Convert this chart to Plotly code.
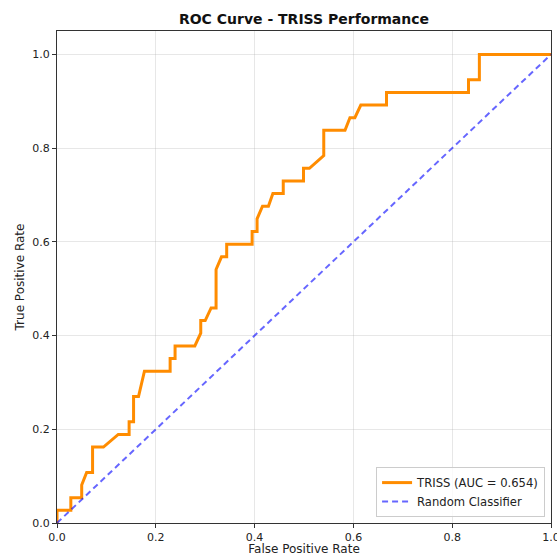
import plotly.graph_objects as go

fpr = [0, 0, 0.028, 0.028, 0.05, 0.05, 0.06, 0.072, 0.072, 0.094, 0.124, 0.146, 0.146,
       0.155, 0.155, 0.165, 0.177, 0.229, 0.229, 0.239, 0.239, 0.279, 0.291, 0.291,
       0.30, 0.312, 0.322, 0.322, 0.333, 0.3435, 0.3435, 0.395, 0.395, 0.405, 0.405,
       0.416, 0.428, 0.437, 0.458, 0.458, 0.499, 0.499, 0.511, 0.540, 0.540, 0.583,
       0.593, 0.603, 0.615, 0.667, 0.667, 0.833, 0.833, 0.855, 0.855, 1.0]
tpr = [0, 0.027, 0.027, 0.054, 0.054, 0.081, 0.108, 0.108, 0.162, 0.162, 0.189, 0.189, 0.216,
       0.216, 0.270, 0.270, 0.324, 0.324, 0.351, 0.351, 0.378, 0.378, 0.405, 0.432,
       0.432, 0.459, 0.459, 0.541, 0.568, 0.568, 0.595, 0.595, 0.622, 0.622, 0.649,
       0.676, 0.676, 0.703, 0.703, 0.730, 0.730, 0.757, 0.757, 0.784, 0.838, 0.838,
       0.865, 0.865, 0.892, 0.892, 0.919, 0.919, 0.946, 0.946, 1.0, 1.0]
diag_x = [0, 1]
diag_y = [0, 1]
auc_label = "TRISS (AUC = 0.654)"
ticks = [0.0, 0.2, 0.4, 0.6, 0.8, 1.0]

font = "DejaVu Sans"
fig = go.Figure()
fig.add_trace(go.Scatter(x=fpr, y=tpr, mode="lines", name=auc_label,
                         line=dict(color="#ff8c00", width=3)))
fig.add_trace(go.Scatter(x=diag_x, y=diag_y, mode="lines", name="Random Classifier",
                         line=dict(color="rgba(0,0,255,0.6)", width=2, dash="6px,4px")))

axis_common = dict(showgrid=True, gridcolor="rgba(176,176,176,0.3)", gridwidth=1,
                   showline=True, linecolor="#333333", linewidth=1, mirror=True,
                   ticks="outside", ticklen=4, tickcolor="#333333",
                   tickfont=dict(family=font, size=11, color="#222"),
                   ticklabeloverflow="allow",
                   tickformat=".1f", tickvals=ticks, zeroline=False)

fig.update_layout(
    width=557, height=556,
    margin=dict(l=57, r=6, t=31, b=33, autoexpand=False),
    paper_bgcolor="white", plot_bgcolor="white",
    title=dict(text="<b>ROC Curve - TRISS Performance</b>", x=0.5, xref="paper",
               y=1 - 19 / 556, yref="container", yanchor="middle",
               font=dict(family=font, size=14, color="#111")),
    xaxis=dict(range=[0, 1], title=dict(text="False Positive Rate", standoff=3,
               font=dict(family=font, size=12, color="#222")), **axis_common),
    yaxis=dict(range=[0, 1.05], title=dict(text="True Positive Rate", standoff=5,
               font=dict(family=font, size=12, color="#222")), **axis_common),
    legend=dict(x=0.988, y=0.012, xanchor="right", yanchor="bottom",
                bgcolor="rgba(255,255,255,0.8)", bordercolor="#cccccc", borderwidth=1,
                font=dict(family=font, size=11.6, color="#222"),
                itemwidth=30, tracegroupgap=0),
    showlegend=True,
)

fig.write_html("out.html", config={"displayModeBar": False},
               post_script="document.body.style.margin='0';document.body.style.overflow='hidden';")
